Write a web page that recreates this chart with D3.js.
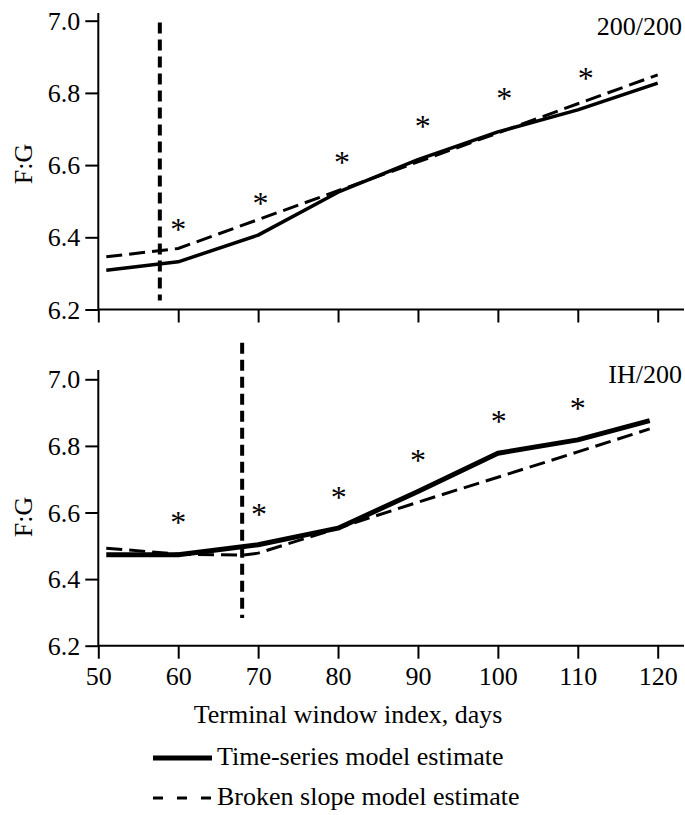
<!DOCTYPE html>
<html>
<head>
<meta charset="utf-8">
<script src="https://cdn.jsdelivr.net/npm/d3@7"></script>
<style>
  body { margin: 0; background: #fff; }
  svg text { font-family: "Liberation Serif", "Times New Roman", serif; fill: #000; }
</style>
</head>
<body>
<svg id="chart"></svg>
<script>
var width = 685;
var height = 815;
var fontSize = "26px";

// x ticks (terminal window index, days)
var xTicks = [50, 60, 70, 80, 90, 100, 110, 120];
var yTicks = [6.2, 6.4, 6.6, 6.8, 7.0];

// panel 1: 200/200
var topSolidX = [51, 60, 70, 80, 90, 100, 110, 120];
var topSolidY = [6.309, 6.332, 6.406, 6.525, 6.615, 6.692, 6.753, 6.827];
var topDashX = [51, 60, 70, 80, 90, 100, 110, 120];
var topDashY = [6.346, 6.369, 6.449, 6.529, 6.609, 6.689, 6.770, 6.850];
var topStarX = [60, 70.3, 80.5, 90.6, 100.8, 111];
var topStarY = [6.434, 6.506, 6.619, 6.720, 6.796, 6.852];
var topBreak = {x: 57.7, y0: 6.225, y1: 6.995};

// panel 2: IH/200
var botSolidX = [51, 60, 70, 80, 90, 100, 110, 119];
var botSolidY = [6.473, 6.473, 6.503, 6.553, 6.663, 6.778, 6.818, 6.876];
var botDashX = [51, 60, 68, 70, 80, 90, 100, 110, 119];
var botDashY = [6.493, 6.475, 6.472, 6.478, 6.553, 6.631, 6.706, 6.782, 6.851];
var botStarX = [60, 70.1, 80.1, 90, 100.1, 110];
var botStarY = [6.583, 6.608, 6.658, 6.770, 6.886, 6.926];
var botBreak = {x: 68, y0: 6.283, y1: 7.11};

var svg = d3.select("#chart")
    .attr("width", width)
    .attr("height", height);

var x = d3.scaleLinear().domain([50, 120]).range([98.3, 657.7]);

function zip(xs, ys) {
    return xs.map(function (d, i) { return {x: d, y: ys[i]}; });
}

function drawPanel(opts) {
    var y = d3.scaleLinear().domain([6.2, 7.0]).range([opts.bottom, opts.top]);
    var g = svg.append("g");

    // y axis
    var yAxis = g.append("g")
        .attr("transform", "translate(98.3,0)")
        .call(d3.axisLeft(y).tickValues(yTicks).tickFormat(d3.format(".1f")).tickSize(13).tickPadding(5).tickSizeOuter(0));
    yAxis.select(".domain").remove();
    yAxis.selectAll(".tick line").attr("stroke", "#000").attr("stroke-width", 2);
    yAxis.selectAll(".tick text").style("font-size", fontSize).attr("dy", "0.33em");
    g.append("line")
        .attr("x1", 98.3).attr("x2", 98.3)
        .attr("y1", opts.axisTop).attr("y2", opts.bottom)
        .attr("stroke", "#000").attr("stroke-width", 2);

    // x axis
    var xAxis = g.append("g")
        .attr("transform", "translate(0," + opts.bottom + ")")
        .call(d3.axisBottom(x).tickValues(xTicks).tickSize(13).tickPadding(8).tickSizeOuter(0)
            .tickFormat(opts.xLabels ? d3.format("d") : ""));
    xAxis.select(".domain").remove();
    xAxis.selectAll(".tick line").attr("stroke", "#000").attr("stroke-width", 2);
    xAxis.selectAll(".tick text").style("font-size", fontSize).attr("dy", "0.72em");
    g.append("line")
        .attr("x1", 98.3).attr("x2", 684)
        .attr("y1", opts.bottom).attr("y2", opts.bottom)
        .attr("stroke", "#000").attr("stroke-width", 2);

    var line = d3.line()
        .x(function (d) { return x(d.x); })
        .y(function (d) { return y(d.y); });

    // broken slope estimate
    g.append("path")
        .datum(zip(opts.dashX, opts.dashY))
        .attr("d", line)
        .attr("fill", "none")
        .attr("stroke", "#000")
        .attr("stroke-width", 3)
        .attr("stroke-dasharray", "16,7");

    // time-series estimate
    g.append("path")
        .datum(zip(opts.solidX, opts.solidY))
        .attr("d", line)
        .attr("fill", "none")
        .attr("stroke", "#000")
        .attr("stroke-width", opts.solidWidth)
        .attr("stroke-linejoin", "round");

    // breakpoint
    g.append("line")
        .attr("x1", x(opts.brk.x)).attr("x2", x(opts.brk.x))
        .attr("y1", y(opts.brk.y1)).attr("y2", y(opts.brk.y0))
        .attr("stroke", "#000")
        .attr("stroke-width", 4)
        .attr("stroke-dasharray", "11,6");

    // significance marks
    g.selectAll(".star")
        .data(zip(opts.starX, opts.starY))
        .enter()
        .append("text")
        .attr("class", "star")
        .attr("x", function (d) { return x(d.x); })
        .attr("y", function (d) { return y(d.y) + 15; })
        .attr("text-anchor", "middle")
        .style("font-size", "32px")
        .text("*");

    g.append("text")
        .attr("x", 682)
        .attr("y", opts.labelY)
        .attr("text-anchor", "end")
        .style("font-size", fontSize)
        .text(opts.label);

    g.append("text")
        .attr("transform", "translate(32," + opts.titleY + ") rotate(-90)")
        .attr("text-anchor", "middle")
        .style("font-size", fontSize)
        .text("F:G");
}

drawPanel({
    top: 20.7, bottom: 309.5, axisTop: 13,
    solidX: topSolidX, solidY: topSolidY, solidWidth: 3.5,
    dashX: topDashX, dashY: topDashY,
    starX: topStarX, starY: topStarY,
    brk: topBreak, label: "200/200", labelY: 35, titleY: 164, xLabels: false
});

drawPanel({
    top: 379.3, bottom: 645.7, axisTop: 370,
    solidX: botSolidX, solidY: botSolidY, solidWidth: 5,
    dashX: botDashX, dashY: botDashY,
    starX: botStarX, starY: botStarY,
    brk: botBreak, label: "IH/200", labelY: 383, titleY: 517, xLabels: true
});

// axis title
svg.append("text")
    .attr("x", 348)
    .attr("y", 723)
    .attr("text-anchor", "middle")
    .style("font-size", fontSize)
    .text("Terminal window index, days");

// legend
var legend = svg.append("g");
legend.append("line")
    .attr("x1", 153).attr("x2", 212)
    .attr("y1", 758).attr("y2", 758)
    .attr("stroke", "#000").attr("stroke-width", 5);
legend.append("text")
    .attr("x", 217).attr("y", 765)
    .style("font-size", fontSize)
    .text("Time-series model estimate");
legend.append("line")
    .attr("x1", 153).attr("x2", 212)
    .attr("y1", 798).attr("y2", 798)
    .attr("stroke", "#000").attr("stroke-width", 3)
    .attr("stroke-dasharray", "10,14");
legend.append("text")
    .attr("x", 217).attr("y", 805)
    .style("font-size", fontSize)
    .text("Broken slope model estimate");
</script>
</body>
</html>
